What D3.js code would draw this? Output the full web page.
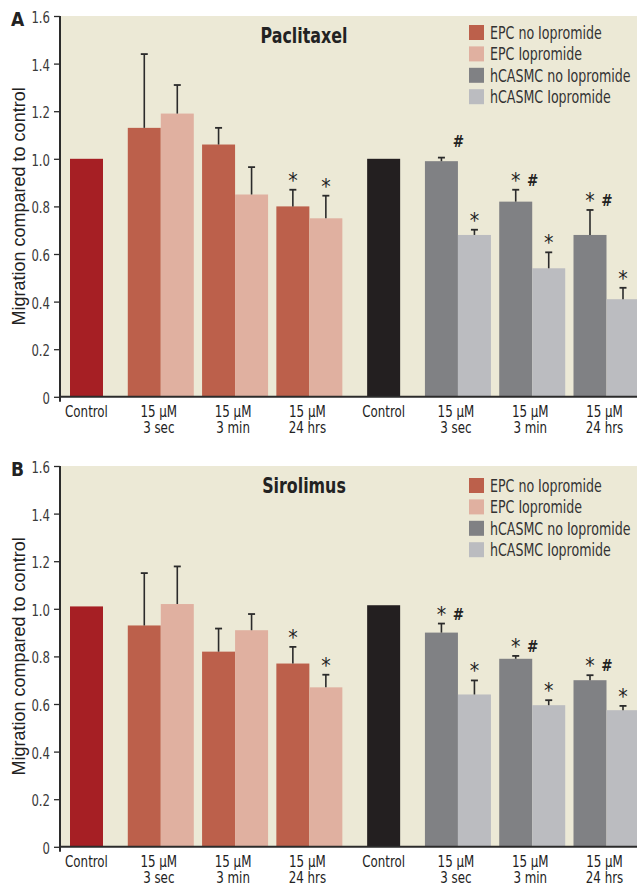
<!DOCTYPE html>
<meta charset="utf-8">
<style>
body { margin: 0; background: #fff; }
svg { display: block; }
text { font-family: 'DejaVu Sans Condensed', 'Liberation Sans', sans-serif; }
.ylab { font-family: 'Liberation Sans', Arial, sans-serif; }
</style>
<svg width="637" height="888"></svg>
<script src="https://cdn.jsdelivr.net/npm/d3@7"></script>
<script>
// x categories (two lines per tick label)
var tickLine1 = ["Control", "15 \u00b5M", "15 \u00b5M", "15 \u00b5M", "Control", "15 \u00b5M", "15 \u00b5M", "15 \u00b5M"];
var tickLine2 = ["", "3 sec", "3 min", "24 hrs", "", "3 sec", "3 min", "24 hrs"];
var yTicks = [0, 0.2, 0.4, 0.6, 0.8, 1.0, 1.2, 1.4, 1.6];
var seriesNames = ["EPC no Iopromide", "EPC Iopromide", "hCASMC no Iopromide", "hCASMC Iopromide"];
var seriesColors = ["#bc604b", "#e0b0a0", "#808184", "#bbbcc0"];
var controlColors = ["#a61f24", "#231f20"];

// A - Paclitaxel
var paclitaxelControl = [1.00, 1.00];
var paclitaxelEpcNo = [1.13, 1.06, 0.80];
var paclitaxelEpcNoErr = [0.31, 0.07, 0.07];
var paclitaxelEpcIo = [1.19, 0.85, 0.75];
var paclitaxelEpcIoErr = [0.12, 0.115, 0.095];
var paclitaxelSmcNo = [0.99, 0.82, 0.68];
var paclitaxelSmcNoErr = [0.015, 0.05, 0.105];
var paclitaxelSmcIo = [0.68, 0.54, 0.41];
var paclitaxelSmcIoErr = [0.022, 0.067, 0.048];
var paclitaxelStars = [[0, 0, 1], [0, 0, 1], [0, 1, 1], [1, 1, 1]];

// B - Sirolimus
var sirolimusControl = [1.01, 1.015];
var sirolimusEpcNo = [0.93, 0.82, 0.77];
var sirolimusEpcNoErr = [0.22, 0.097, 0.07];
var sirolimusEpcIo = [1.02, 0.91, 0.67];
var sirolimusEpcIoErr = [0.158, 0.068, 0.053];
var sirolimusSmcNo = [0.90, 0.79, 0.70];
var sirolimusSmcNoErr = [0.038, 0.012, 0.021];
var sirolimusSmcIo = [0.64, 0.595, 0.574];
var sirolimusSmcIoErr = [0.059, 0.021, 0.018];
var sirolimusStars = [[0, 0, 1], [0, 0, 1], [1, 1, 1], [1, 1, 1]];

var hashMarks = [1, 1, 1]; // '#' next to hCASMC no Iopromide bars

var panels = [
  {letter: "A", title: "Paclitaxel", control: paclitaxelControl,
   series: [paclitaxelEpcNo, paclitaxelEpcIo, paclitaxelSmcNo, paclitaxelSmcIo],
   errors: [paclitaxelEpcNoErr, paclitaxelEpcIoErr, paclitaxelSmcNoErr, paclitaxelSmcIoErr],
   stars: paclitaxelStars, top: 0},
  {letter: "B", title: "Sirolimus", control: sirolimusControl,
   series: [sirolimusEpcNo, sirolimusEpcIo, sirolimusSmcNo, sirolimusSmcIo],
   errors: [sirolimusEpcNoErr, sirolimusEpcIoErr, sirolimusSmcNoErr, sirolimusSmcIoErr],
   stars: sirolimusStars, top: 450}
];

var svg = d3.select("svg");
var barW = 33;
var y = d3.scaleLinear().domain([0, 1.6]).range([396.8, 16]);
var x = d3.scalePoint().domain(d3.range(8)).range([86.5, 606.5]);

// condensed text anchored at (tx, ty), the original uses a condensed face
function ctext(sel, tx, ty, sx) {
  return sel.append("g").attr("transform", "translate(" + tx + "," + ty + ") scale(" + (sx || 0.84) + ",1)")
    .append("text");
}

panels.forEach(function(p) {
  var g = svg.append("g").attr("transform", "translate(0," + p.top + ")");

  g.append("rect").attr("x", 61).attr("y", y(1.6)).attr("width", 580).attr("height", y(0) - y(1.6))
    .attr("fill", "#ece9d6");

  // build bars
  var bars = [];
  p.control.forEach(function(v, k) {
    bars.push({x: x(k * 4) - barW / 2, v: v, color: controlColors[k]});
  });
  p.series.forEach(function(vals, s) {
    var half = s < 2 ? 0 : 4;
    vals.forEach(function(v, i) {
      bars.push({x: x(half + i + 1) - barW + (s % 2) * barW, v: v, e: p.errors[s][i],
        color: seriesColors[s], star: p.stars[s][i], hash: s == 2 && hashMarks[i]});
    });
  });

  g.selectAll("rect.bar").data(bars).enter().append("rect")
    .attr("class", "bar")
    .attr("x", function(d) { return d.x; })
    .attr("y", function(d) { return y(d.v); })
    .attr("width", barW)
    .attr("height", function(d) { return y(0) - y(d.v); })
    .attr("fill", function(d) { return d.color; });

  var eb = bars.filter(function(d) { return d.e; });
  g.selectAll("line.err").data(eb).enter().append("line")
    .attr("x1", function(d) { return d.x + barW / 2; })
    .attr("x2", function(d) { return d.x + barW / 2; })
    .attr("y1", function(d) { return y(d.v); })
    .attr("y2", function(d) { return y(d.v + d.e); })
    .attr("stroke", "#2b2b2b").attr("stroke-width", 1.6);
  g.selectAll("line.cap").data(eb).enter().append("line")
    .attr("x1", function(d) { return d.x + barW / 2 - 3.5; })
    .attr("x2", function(d) { return d.x + barW / 2 + 3.5; })
    .attr("y1", function(d) { return y(d.v + d.e); })
    .attr("y2", function(d) { return y(d.v + d.e); })
    .attr("stroke", "#2b2b2b").attr("stroke-width", 1.8);

  g.selectAll("text.star").data(eb.filter(function(d) { return d.star; })).enter().append("text")
    .attr("x", function(d) { return d.x + barW / 2; })
    .attr("y", function(d) { return y(d.v + d.e) - 2; })
    .attr("text-anchor", "middle").attr("font-size", 21).attr("fill", "#222")
    .text("*");
  g.selectAll("text.hash").data(eb.filter(function(d) { return d.hash; })).enter().append("text")
    .attr("x", function(d) { return d.x + barW / 2 + 17; })
    .attr("y", function(d) { return y(d.v + d.e) - (d.star ? 4 : 11); })
    .attr("text-anchor", "middle").attr("font-size", 15).attr("font-weight", "bold").attr("fill", "#222")
    .text("#");

  // axes
  var yAxis = g.append("g").attr("transform", "translate(60,0)")
    .call(d3.axisLeft(y).tickValues(yTicks).tickSize(6).tickFormat(""));
  yAxis.select(".domain").remove();
  yAxis.selectAll(".tick line").attr("stroke", "#2b2b2b").attr("stroke-width", 1.3);
  yTicks.forEach(function(t) {
    ctext(g, 50, y(t) + 7).attr("text-anchor", "end").attr("font-size", 15.5).attr("fill", "#3a3a3a")
      .text(t == 0 ? "0" : d3.format(".1f")(t));
  });

  g.append("line").attr("x1", 60).attr("x2", 60).attr("y1", y(1.6)).attr("y2", y(0) + 5)
    .attr("stroke", "#2b2b2b").attr("stroke-width", 2);
  g.append("line").attr("x1", 59).attr("x2", 637).attr("y1", y(0)).attr("y2", y(0))
    .attr("stroke", "#2b2b2b").attr("stroke-width", 2);

  d3.range(8).forEach(function(i) {
    var cx = x(i) - (i % 4 == 0 ? 0 : 2);
    var t = ctext(g, cx, 416.5, 0.88).attr("text-anchor", "middle").attr("font-size", 15).attr("fill", "#222");
    t.append("tspan").attr("x", 0).attr("y", 0).text(tickLine1[i]);
    t.append("tspan").attr("x", 0).attr("y", 17).text(tickLine2[i]);
  });

  g.append("text").attr("class", "ylab")
    .attr("transform", "translate(25," + ((y(0) + y(1.6)) / 2) + ") rotate(-90)")
    .attr("text-anchor", "middle").attr("font-size", 18).attr("fill", "#222")
    .text("Migration compared to control");

  g.append("text").attr("x", 11).attr("y", 26).attr("font-size", 19).attr("font-weight", "bold")
    .attr("fill", "#222").text(p.letter);

  ctext(g, 304, 43).attr("text-anchor", "middle")
    .attr("font-size", 21).attr("font-weight", "bold").attr("fill", "#222").text(p.title);

  // legend
  seriesNames.forEach(function(name, i) {
    var ly = 25 + p.top / 150 + i * 21.4;
    g.append("rect").attr("x", 469).attr("y", ly).attr("width", 15).attr("height", 15)
      .attr("fill", seriesColors[i]);
    ctext(g, 490, ly + 14, 0.78).attr("font-size", 18).attr("fill", "#333").text(name);
  });
});
</script>
